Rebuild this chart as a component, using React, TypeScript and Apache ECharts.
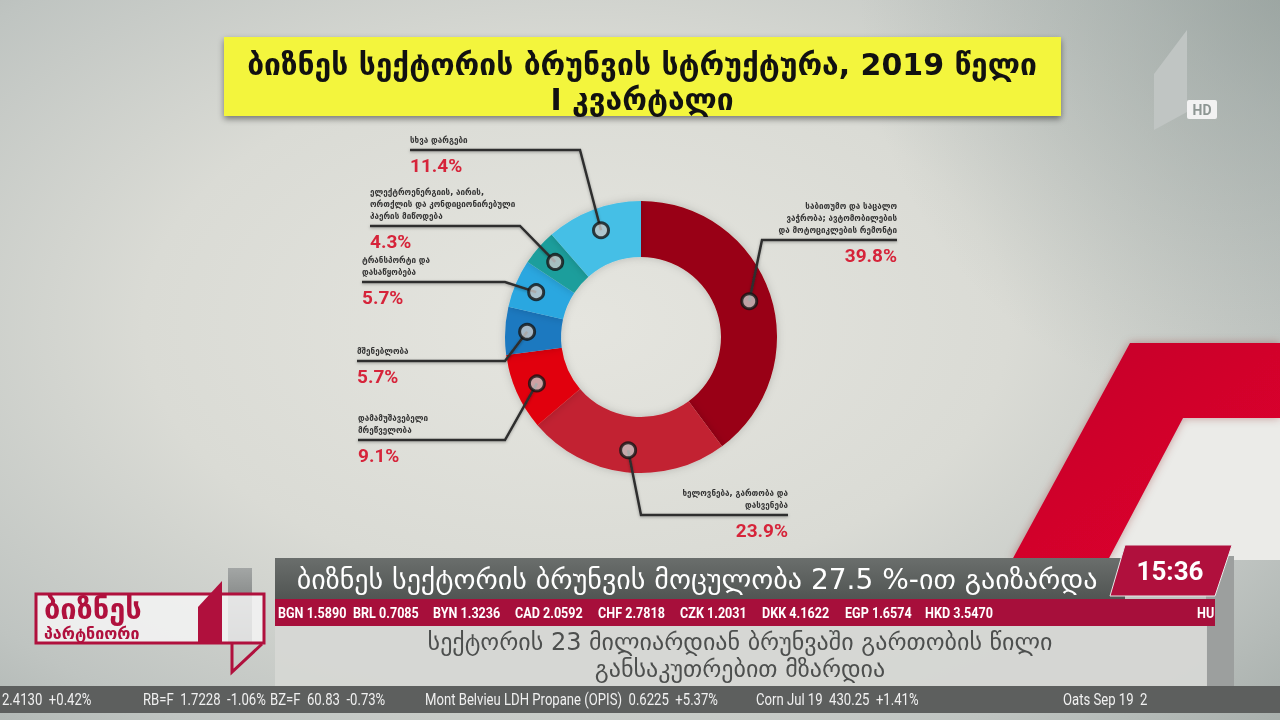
import React, { useEffect, useRef } from "react";
import * as echarts from "echarts";

// ---------- data ----------
const categories = [
  "საბითუმო და საცალო\nვაჭრობა; ავტომობილების\nდა მოტოციკლების რემონტი",
  "ხელოვნება, გართობა და\nდასვენება",
  "დამამუშავებელი\nმრეწველობა",
  "მშენებლობა",
  "ტრანსპორტი და\nდასაწყობება",
  "ელექტროენერგიის, აირის,\nორთქლის და კონდიციონირებული\nჰაერის მიწოდება",
  "სხვა დარგები",
];
const shares = [39.8, 23.9, 9.1, 5.7, 5.7, 4.3, 11.4];
const shareLabels = ["39.8%", "23.9%", "9.1%", "5.7%", "5.7%", "4.3%", "11.4%"];

const titleLines = ["ბიზნეს სექტორის ბრუნვის სტრუქტურა, 2019 წელი", "I კვარტალი"];
const headline = "ბიზნეს სექტორის ბრუნვის მოცულობა 27.5 %-ით გაიზარდა";
const subtitleLines = ["სექტორის 23 მილიარდიან ბრუნვაში გართობის წილი", "განსაკუთრებით მზარდია"];
const currencyTicker = [
  "BGN 1.5890", "BRL 0.7085", "BYN 1.3236", "CAD 2.0592", "CHF 2.7818",
  "CZK 1.2031", "DKK 4.1622", "EGP 1.6574", "HKD 3.5470", "HU",
];
const marketTicker = [
  "2.4130  +0.42%", "RB=F  1.7228  -1.06%", "BZ=F  60.83  -0.73%",
  "Mont Belvieu LDH Propane (OPIS)  0.6225  +5.37%", "Corn Jul 19  430.25  +1.41%", "Oats Sep 19  2",
];
const clockText = "15:36";
const logoLines = ["ბიზნეს", "პარტნიორი"];

// ---------- styles / layout ----------
const sliceColors = ["#990012", "#c22232", "#e1000a", "#1b79c0", "#2aa7e0", "#1f9e9c", "#45bfe6"];
const CENTER = [641, 337];
const R_IN = 80;
const R_OUT = 136;
const MARKER_R = 114;

// leader layout per slice: side, horizontal line y, elbow x, far end x
const leaderLayout = [
  { side: "right", y: 240, elbow: 762, end: 897 },
  { side: "right", y: 515, elbow: 641, end: 788 },
  { side: "left", y: 440, elbow: 505, end: 358 },
  { side: "left", y: 361, elbow: 505, end: 357 },
  { side: "left", y: 282, elbow: 505, end: 362 },
  { side: "left", y: 226, elbow: 520, end: 370 },
  { side: "left", y: 150, elbow: 580, end: 410 },
];
const currencyX = [278, 353, 433, 515, 598, 680, 762, 845, 925, 1197];
const marketX = [2, 143, 270, 425, 756, 1063];

const GEO = "'DejaVu Sans', 'Noto Sans', sans-serif";
const GEO_COND = "'DejaVu Sans Condensed', 'DejaVu Sans', sans-serif";

function decorations(): any[] {
  const red = "#b0103d";
  const els: any[] = [];
  // right red decoration
  els.push({
    type: "polygon", z: 0, silent: true,
    shape: { points: [[1183, 418], [1280, 418], [1280, 560], [1108, 560]] },
    style: { fill: "#ebebe8" },
  });
  els.push({
    type: "polygon", z: 0, silent: true,
    shape: { points: [[1130, 343], [1280, 343], [1280, 418], [1183, 418], [1108, 560], [1012, 560]] },
    style: {
      fill: new echarts.graphic.LinearGradient(0, 0, 1, 1, [
        { offset: 0, color: "#c2002a" },
        { offset: 1, color: "#e2002e" },
      ]),
      shadowBlur: 10, shadowColor: "rgba(120,0,20,0.35)",
    },
  });
  // channel logo
  els.push({
    type: "polygon", z: 0, silent: true,
    shape: { points: [[1154, 74], [1187, 30], [1187, 112], [1154, 130]] },
    style: { fill: "#c0c5c3" },
  });
  els.push({ type: "rect", z: 0, silent: true, shape: { x: 1187, y: 100, width: 30, height: 19, r: 2 }, style: { fill: "#f2f2f2" } });
  els.push({
    type: "text", z: 1, silent: true, x: 1202, y: 110,
    style: { text: "HD", fill: "#8d9693", font: "bold 14px Roboto, sans-serif", textAlign: "center", textVerticalAlign: "middle" },
  });
  // title box
  els.push({
    type: "rect", z: 0, silent: true,
    shape: { x: 224, y: 37, width: 837, height: 79 },
    style: { fill: "#f3f53e", shadowBlur: 6, shadowOffsetY: 3, shadowColor: "rgba(0,0,0,0.45)" },
  });
  titleLines.forEach((t, i) => {
    els.push({
      type: "text", z: 1, silent: true, x: 642, y: 64 + i * 35,
      style: { text: t, fill: "#111", font: `bold 30px ${GEO}`, textAlign: "center", textVerticalAlign: "middle" },
    });
  });
  // lower third: right grey bar
  els.push({ type: "rect", z: 0, silent: true, shape: { x: 1206, y: 556, width: 28, height: 132 }, style: { fill: "#9c9f9e" } });
  // headline bar
  els.push({
    type: "rect", z: 1, silent: true, shape: { x: 275, y: 558, width: 850, height: 41 },
    style: {
      fill: new echarts.graphic.LinearGradient(0, 0, 0, 1, [
        { offset: 0, color: "#6a6e6c" }, { offset: 1, color: "#515553" },
      ]),
    },
  });
  els.push({
    type: "text", z: 2, silent: true, x: 697, y: 579,
    style: { text: headline, fill: "#ffffff", font: `28px ${GEO}`, textAlign: "center", textVerticalAlign: "middle" },
  });
  // currency ticker
  els.push({ type: "rect", z: 1, silent: true, shape: { x: 275, y: 599, width: 940, height: 27 }, style: { fill: "#a70f3b" } });
  currencyTicker.forEach((t, i) => {
    els.push({
      type: "text", z: 2, silent: true, x: currencyX[i], y: 613, scaleX: 0.84,
      style: { text: t, fill: "#ffffff", font: "bold 15px Roboto, sans-serif", textAlign: "left", textVerticalAlign: "middle" },
    });
  });
  // subtitle box
  els.push({ type: "rect", z: 1, silent: true, shape: { x: 275, y: 626, width: 932, height: 60 }, style: { fill: "rgba(214,215,212,0.95)" } });
  subtitleLines.forEach((t, i) => {
    els.push({
      type: "text", z: 2, silent: true, x: 740, y: 642 + i * 27,
      style: { text: t, fill: "#4d4f4e", font: `24px ${GEO}`, textAlign: "center", textVerticalAlign: "middle" },
    });
  });
  // clock
  els.push({
    type: "polygon", z: 2, silent: true,
    shape: { points: [[1125, 545], [1232, 545], [1215, 596], [1110, 596]] },
    style: { fill: red, stroke: "#e8e8e8", lineWidth: 1 },
  });
  els.push({
    type: "text", z: 3, silent: true, x: 1170, y: 571,
    style: { text: clockText, fill: "#ffffff", font: "bold 26px Roboto, sans-serif", textAlign: "center", textVerticalAlign: "middle" },
  });
  // market ticker
  els.push({ type: "rect", z: 1, silent: true, shape: { x: 0, y: 686, width: 1280, height: 27 }, style: { fill: "#5d5f5e" } });
  marketTicker.forEach((t, i) => {
    els.push({
      type: "text", z: 2, silent: true, x: marketX[i], y: 700, scaleX: 0.82,
      style: { text: t, fill: "#f0f0f0", font: "16px Roboto, sans-serif", textAlign: "left", textVerticalAlign: "middle" },
    });
  });
  // logo
  els.push({
    type: "rect", z: 1, silent: true, shape: { x: 228, y: 568, width: 24, height: 75 },
    style: {
      fill: new echarts.graphic.LinearGradient(0, 0, 0, 1, [
        { offset: 0, color: "#a3a6a5" }, { offset: 1, color: "#5f6261" },
      ]),
    },
  });
  els.push({
    type: "rect", z: 2, silent: true, shape: { x: 36, y: 594, width: 228, height: 49 },
    style: { fill: "rgba(245,245,245,0.85)", stroke: red, lineWidth: 3 },
  });
  els.push({
    type: "polygon", z: 2, silent: true,
    shape: { points: [[198, 607], [222, 581], [222, 644], [198, 644]] },
    style: { fill: red },
  });
  els.push({
    type: "polyline", z: 2, silent: true,
    shape: { points: [[232, 644], [232, 672], [262, 644]] },
    style: { stroke: red, lineWidth: 3, fill: null },
  });
  els.push({
    type: "text", z: 3, silent: true, x: 44, y: 609,
    style: { text: logoLines[0], fill: red, font: `bold 29px ${GEO}`, textAlign: "left", textVerticalAlign: "middle" },
  });
  els.push({
    type: "text", z: 3, silent: true, x: 44, y: 633,
    style: { text: logoLines[1], fill: red, font: `bold 16px ${GEO}`, textAlign: "left", textVerticalAlign: "middle" },
  });
  return els;
}

export default function App() {
  const ref = useRef<HTMLDivElement>(null);
  useEffect(() => {
    if (!ref.current) return;
    const chart = echarts.init(ref.current, null, { renderer: "svg" });
    const total = shares.reduce((a, b) => a + b, 0);
    const midValues = shares.map((v, i) => shares.slice(0, i).reduce((a, b) => a + b, 0) + v / 2);

    chart.setOption({
      animation: false,
      backgroundColor: "transparent",
      polar: { center: CENTER, radius: R_OUT },
      angleAxis: { type: "value", min: 0, max: total, startAngle: 90, clockwise: true, show: false },
      radiusAxis: { type: "value", min: 0, max: R_OUT, show: false },
      series: [
        {
          type: "pie",
          center: CENTER,
          radius: [R_IN, R_OUT],
          startAngle: 90,
          clockwise: true,
          silent: true,
          z: 2,
          label: { show: false },
          labelLine: { show: false },
          itemStyle: { shadowBlur: 8, shadowColor: "rgba(0,0,0,0.18)" },
          data: categories.map((n, i) => ({ name: n, value: shares[i], itemStyle: { color: sliceColors[i] } })),
        },
        {
          type: "scatter",
          coordinateSystem: "polar",
          silent: true,
          z: 6,
          symbol: "circle",
          symbolSize: 15,
          itemStyle: { color: "#c9c9c9", borderColor: "#141414", borderWidth: 3 },
          data: midValues.map((m) => [MARKER_R, m]),
        },
      ],
    });

    const labels: any[] = [];
    midValues.forEach((m, i) => {
      let p: any = chart.convertToPixel({ seriesIndex: 1 }, [MARKER_R, m]);
      if (!p || isNaN(p[0])) {
        const a = (m / total) * Math.PI * 2;
        p = [CENTER[0] + MARKER_R * Math.sin(a), CENTER[1] - MARKER_R * Math.cos(a)];
      }
      const L = leaderLayout[i];
      labels.push({
        type: "polyline", z: 4, silent: true,
        shape: { points: [[p[0], p[1]], [L.elbow, L.y], [L.end, L.y]] },
        style: { stroke: "#2e2e2e", lineWidth: 2.5, fill: null, shadowBlur: 3, shadowColor: "rgba(0,0,0,0.3)", shadowOffsetY: 1 },
      });
      const align = L.side === "left" ? "left" : "right";
      labels.push({
        type: "text", z: 4, silent: true, x: L.end, y: L.y - 4,
        style: {
          text: categories[i], fill: "#333333", font: `bold 9px ${GEO_COND}`, lineHeight: 12,
          textAlign: align, textVerticalAlign: "bottom",
        },
      });
      labels.push({
        type: "text", z: 4, silent: true, x: L.end, y: L.y + 6,
        style: {
          text: shareLabels[i], fill: "#d6243a", font: "bold 19px Roboto, sans-serif",
          textAlign: align, textVerticalAlign: "top",
        },
      });
    });

    chart.setOption({ graphic: { elements: [...decorations(), ...labels] } });
    return () => chart.dispose();
  }, []);

  return (
    <div
      ref={ref}
      style={{
        position: "fixed",
        left: 0,
        top: 0,
        width: 1280,
        height: 720,
        background:
          "radial-gradient(circle 420px at 100% 0%, rgba(140,152,148,0.55), rgba(140,152,148,0) 100%), radial-gradient(ellipse 75% 80% at 45% 45%, #e5e5df 0%, #dadbd5 45%, #bfc4c1 80%, #a9b0ad 100%)",
      }}
    />
  );
}
